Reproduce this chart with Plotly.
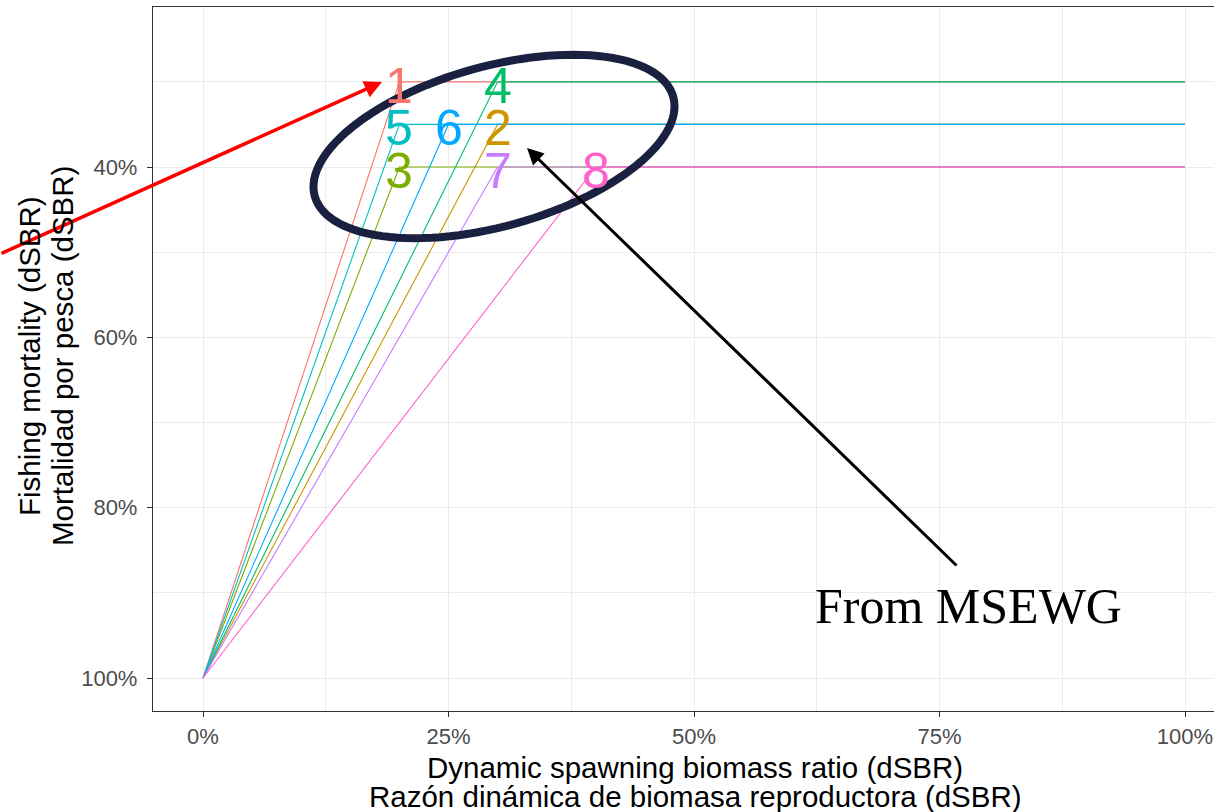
import math
import plotly.graph_objects as go

# ---- data ----
hcr_labels = ["1", "2", "3", "4", "5", "6", "7", "8"]
threshold_dsbr = [0.20, 0.30, 0.20, 0.30, 0.20, 0.25, 0.30, 0.40]
fishing_level = [0.30, 0.35, 0.40, 0.30, 0.35, 0.35, 0.40, 0.40]
origin_x, origin_y = 0.0, 1.0
end_x = 1.0
colors = ["#F8766D", "#CD9600", "#7CAE00", "#00BE67", "#00BFC4", "#00A9FF", "#C77CFF", "#FF61CC"]
x_ticks = [0, 0.25, 0.5, 0.75, 1.0]
x_tick_text = ["0%", "25%", "50%", "75%", "100%"]

W, H = 1214, 812
ML, MR, MT, MB = 153, 0, 7, 101

fig = go.Figure()
for lab, xt, yl, c in zip(hcr_labels, threshold_dsbr, fishing_level, colors):
    fig.add_trace(go.Scatter(
        x=[origin_x, xt, end_x], y=[origin_y, yl, yl], mode="lines",
        line=dict(color=c, width=1.1), showlegend=False, hoverinfo="skip"))

# HCR number labels at each threshold point
for lab, xt, yl, c in zip(hcr_labels, threshold_dsbr, fishing_level, colors):
    fig.add_annotation(x=xt, y=yl, xref="x", yref="y", text=lab, showarrow=False,
                       xanchor="center", yanchor="middle", yshift=-4,
                       font=dict(family="Liberation Sans, Arial", size=50, color=c))

# pixel -> paper helpers for overlay annotations
pw = W - ML - MR
ph = H - MT - MB
def px(xp):
    return (xp - ML) / pw
def py(yp):
    return (H - MB - yp) / ph

# rotated ellipse (annotation overlay)
cx, cy, a, b, th = 494, 146.5, 186, 80, math.radians(15.5)
pts = []
n = 120
for i in range(n + 1):
    t = 2 * math.pi * i / n
    ex = a * math.cos(t)
    ey = b * math.sin(t)
    X = cx + ex * math.cos(th) + ey * math.sin(th)
    Y = cy - ex * math.sin(th) + ey * math.cos(th)
    pts.append((px(X), py(Y)))
path = "M " + " L ".join(f"{p[0]:.5f},{p[1]:.5f}" for p in pts) + " Z"
fig.add_shape(type="path", path=path, xref="paper", yref="paper",
              line=dict(color="#1a2040", width=8))

# arrows
fig.add_annotation(x=px(382), y=py(82), xref="paper", yref="paper",
                   ax=-400, ay=172, axref="pixel", ayref="pixel",
                   showarrow=True, arrowhead=2, arrowsize=1.0, arrowwidth=3.5,
                   arrowcolor="#FF0000", text="")
fig.add_annotation(x=px(527), y=py(148), xref="paper", yref="paper",
                   ax=431, ay=419, axref="pixel", ayref="pixel",
                   showarrow=True, arrowhead=2, arrowsize=1.1, arrowwidth=3,
                   arrowcolor="#000000", text="")

fig.add_annotation(x=px(813), y=py(606), xref="paper", yref="paper",
                   xanchor="left", yanchor="middle", showarrow=False,
                   text="From MSEWG",
                   font=dict(family="Liberation Serif, Times New Roman", size=50, color="#000000"))

# axis titles
tfont = dict(family="Liberation Sans, Arial", size=29.5, color="#000000")
fig.add_annotation(x=px(695), y=py(767), xref="paper", yref="paper", showarrow=False,
                   text="Dynamic spawning biomass ratio (dSBR)", font=tfont,
                   xanchor="center", yanchor="middle")
fig.add_annotation(x=px(695), y=py(796), xref="paper", yref="paper", showarrow=False,
                   text="Razón dinámica de biomasa reproductora (dSBR)", font=tfont,
                   xanchor="center", yanchor="middle")
fig.add_annotation(x=px(29), y=py(356), xref="paper", yref="paper", showarrow=False,
                   text="Fishing mortality (dSBR)", font=tfont, textangle=-90,
                   xanchor="center", yanchor="middle")
fig.add_annotation(x=px(62), y=py(356), xref="paper", yref="paper", showarrow=False,
                   text="Mortalidad por pesca (dSBR)", font=tfont, textangle=-90,
                   xanchor="center", yanchor="middle")

axis_common = dict(
    showline=True, linecolor="#333333", linewidth=1.3,
    ticks="outside", ticklen=5, tickcolor="#333333", tickwidth=1.3,
    showgrid=True, gridcolor="#EBEBEB", gridwidth=1.4,
    zeroline=False,
    tickfont=dict(family="Liberation Sans, Arial", size=22, color="#4D4D4D"),
)

fig.update_xaxes(range=[-50 / 982, 1011 / 982], tickvals=x_ticks, ticktext=x_tick_text,
                 mirror=True,
                 minor=dict(dtick=0.125, tick0=0, showgrid=True, gridcolor="#EBEBEB",
                            gridwidth=0.8, ticks=""),
                 **axis_common)
fig.update_yaxes(range=[1.03875, 0.21213], dtick=0.2, tick0=0, tickformat=".0%",
                 minor=dict(dtick=0.1, tick0=0, showgrid=True, gridcolor="#EBEBEB",
                            gridwidth=0.8, ticks=""),
                 ticklabelstandoff=5,
                 **axis_common)

fig.update_layout(
    width=W, height=H,
    margin=dict(l=ML, r=MR, t=MT, b=MB),
    plot_bgcolor="white", paper_bgcolor="white",
    showlegend=False,
)

fig.write_html("out.html")
